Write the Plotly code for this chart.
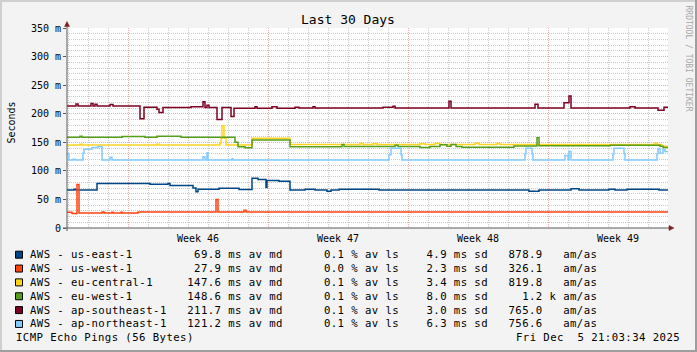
import plotly.graph_objects as go

# ---------------- data ----------------
series_names = ["AWS - us-east-1", "AWS - us-west-1", "AWS - eu-central-1",
                "AWS - eu-west-1", "AWS - ap-southeast-1", "AWS - ap-northeast-1"]
series_colors = ["#004586", "#ff420e", "#ffd320", "#579d1c", "#7e0021", "#83caff"]

# time in days since start of graph, values in ms (step changes)
us_east_t = [0, 0.35, 0.45, 1.5, 4.15, 5.05, 5.15, 6.3, 6.45, 6.55, 7.6, 8.6, 9.25, 9.55, 9.95, 10.0,
             10.6, 11.15, 11.9, 12.4, 13.0, 13.2, 13.6, 15.6, 23.1, 23.6, 25.2, 25.6, 27.1, 27.4, 28.0,
             29.6, 30.05]
us_east_v = [66.5, 68, 66.5, 78, 76.5, 78, 74.5, 70, 63.5, 68, 69.5, 67.5, 87, 85, 71, 83,
             82, 66.5, 68, 66.5, 64.5, 66.5, 68, 66.5, 64.5, 66.5, 68.5, 66.5, 68, 66.5, 67.8,
             66.5, 66.5]

us_west_t = [0, 0.25, 0.5, 0.6, 1.75, 1.85, 2.25, 2.3, 2.7, 2.75, 3.55, 7.45, 7.55, 8.85, 8.95, 30.05]
us_west_v = [27.5, 25.5, 76, 26.2, 28, 26.2, 27.5, 26.2, 27.5, 26.2, 27.9, 50, 27.9, 31, 27.9, 27.9]

eu_central_t = [0, 0.65, 0.75, 4.5, 4.6, 7.65, 7.7, 7.75, 7.85, 7.95, 9.25, 11.15, 14.65, 14.8,
                15.3, 15.5, 17.65, 17.9, 18.4, 18.65, 20.4, 20.6, 21.5, 21.65, 29.4, 29.5, 29.75, 30.05]
eu_central_v = [145.3, 146.5, 145.3, 146.5, 145.3, 148, 157, 179, 157, 145.3, 157, 146, 148, 146,
                147.5, 146, 147.5, 146, 148, 146, 148.5, 146, 148, 146, 148.5, 146, 143, 143]

eu_west_t = [0, 0.65, 0.75, 2.75, 3.9, 4.5, 5.7, 8.4, 8.55, 8.9, 9.25, 11.15, 13.75, 13.85,
             16.4, 16.55, 17.65, 18.15, 18.65, 19.0, 19.2, 19.45, 19.75, 22.35, 23.5, 23.6,
             27.15, 29.65, 29.8, 30.05]
eu_west_v = [159, 160.5, 159, 160, 159, 160.5, 159, 150, 142, 140.5, 154, 142.3, 146, 142.5,
             145, 142.5, 141, 142.5, 145.5, 143, 146, 142.5, 141.2, 143.6, 158, 144,
             145, 143, 141, 141]

ap_southeast_t = [0, 0.45, 0.55, 1.2, 1.3, 1.4, 1.5, 2.15, 2.3, 3.65, 3.85, 4.5, 4.6, 4.8, 6.2,
                  6.8, 6.9, 7.0, 7.1, 7.5, 7.75, 8.2, 8.35, 9.4, 9.5, 10.25, 10.5, 11.4, 11.6,
                  12.3, 12.4, 15.8, 16.3, 16.4, 19.1, 19.2, 23.4, 23.55, 24.85, 25.1, 25.2,
                  28.15, 28.4, 29.55, 29.85, 30.05]
ap_southeast_v = [213.5, 217, 213.5, 218, 213.5, 216.5, 213.5, 216, 213.5, 191, 211.5, 208, 202, 211, 212,
                  221, 211, 215, 211, 190, 211, 195, 209.5, 212, 209.5, 212, 209.5, 211.5, 210,
                  212, 210, 211.5, 213, 210, 222, 210, 216.5, 210, 219, 231, 210,
                  212, 210, 206, 211.5, 211.5]

ap_northeast_t = [0, 0.1, 0.3, 0.4, 0.8, 0.85, 1.25, 1.55, 1.75, 2.15, 2.25, 6.8, 6.9, 7.0, 7.05,
                  8.25, 8.3, 16.1, 16.2, 16.7, 16.75, 22.9, 22.95, 23.25, 23.3, 24.9, 25.05, 25.1,
                  25.2, 27.3, 27.35, 27.85, 27.9, 29.5, 29.55, 29.65, 29.8, 29.9, 30.05]
ap_northeast_v = [129.5, 119, 120.5, 119, 131, 138, 141, 142.5, 119, 124, 119, 124.5, 119, 131.5, 119,
                  121, 119, 128, 139.5, 128, 119, 130, 139.5, 130, 119, 127, 119, 134,
                  119, 130, 139.5, 130, 119, 130, 139, 131, 137, 134, 134]

series_t = [us_east_t, us_west_t, eu_central_t, eu_west_t, ap_southeast_t, ap_northeast_t]
series_v = [us_east_v, us_west_v, eu_central_v, eu_west_v, ap_southeast_v, ap_northeast_v]

avg_ms = [69.8, 27.9, 147.6, 148.6, 211.7, 121.2]
loss_pct = [0.1, 0.0, 0.1, 0.1, 0.1, 0.1]
sd_ms = [4.9, 2.3, 3.4, 8.0, 3.0, 6.3]
am_as = [878.9, 326.1, 819.8, 1200.0, 765.0, 756.6]

y_tick_vals = [0, 50, 100, 150, 200, 250, 300, 350]
y_tick_text = ["0", "50 m", "100 m", "150 m", "200 m", "250 m", "300 m", "350 m"]
week_labels = ["Week 46", "Week 47", "Week 48", "Week 49"]
week_starts = [3.065, 10.065, 17.065, 24.065]
day_lines = [0.065 + i for i in range(31)]
x_range = [0, 30.05]

title_text = "Last 30 Days"
footer_left = "ICMP Echo Pings (56 Bytes)"
footer_right = "Fri Dec  5 21:03:34 2025"
side_text = "RRDTOOL / TOBI OETIKER"

# ---------------- layout helpers ----------------
W, H = 697, 352
PL, PR, PT, PB = 67, 668, 28, 228


def px(x):
    return (x - PL) / (PR - PL)


def py(y):
    return (PB - y) / (PB - PT)


MONO = "DejaVu Sans Mono"


def mono(s):
    return s.replace(" ", "\u00a0")


def spaced(s, ls=0.42):
    return '<span style="letter-spacing:%spx">%s</span>' % (ls, mono(s))


fig = go.Figure()
for name, color, t, v in zip(series_names, series_colors, series_t, series_v):
    fig.add_trace(go.Scatter(x=t, y=v, mode="lines", name=name,
                             line=dict(color=color, width=1.5, shape="hv"),
                             showlegend=False, hoverinfo="skip"))

GRID = "#cccccc"
MGRID = "#f0afaf"
AXIS = "#5a5a5a"
ARROW = "#7f1f1f"

annotations = []
shapes = []

# title
annotations.append(dict(text=mono(title_text), x=px(348), y=py(19), xref="paper", yref="paper",
                        showarrow=False, xanchor="center", yanchor="middle",
                        font=dict(family=MONO, size=13, color="#000"), borderpad=0, borderwidth=0))
# y-axis title
annotations.append(dict(text="Seconds", x=px(10.5), y=py(123), xref="paper", yref="paper",
                        showarrow=False, textangle=-90, xanchor="center", yanchor="middle",
                        font=dict(family=MONO, size=10, color="#000"), borderpad=0, borderwidth=0))
# side credit
annotations.append(dict(text=mono(side_text), x=px(688), y=py(58.5), xref="paper", yref="paper",
                        showarrow=False, textangle=90, xanchor="center", yanchor="middle",
                        font=dict(family=MONO, size=8, color="#a8a8a8"), borderpad=0, borderwidth=0))
# week labels
for ws, lab in zip(week_starts, week_labels):
    annotations.append(dict(text=mono(lab), x=ws + 3.5, y=py(238), xref="x", yref="paper",
                            showarrow=False, xanchor="center", yanchor="middle",
                            font=dict(family=MONO, size=10, color="#000"), borderpad=0, borderwidth=0))

# legend rows
row_y0 = 254.7
row_dy = 13.85
for i, (name, color, a, l, s, m) in enumerate(zip(series_names, series_colors, avg_ms, loss_pct, sd_ms, am_as)):
    yc = row_y0 + i * row_dy
    if m >= 1000:
        mval, pref = m / 1000.0, "k"
    else:
        mval, pref = m, " "
    line = f"{name:<22}{a:6.1f} ms av md      {l:.1f} % av ls   {s:4.1f} ms sd  {mval:6.1f} {pref} am/as"
    annotations.append(dict(text=spaced(line), x=px(30), y=py(yc), xref="paper", yref="paper",
                            showarrow=False, xanchor="left", yanchor="middle",
                            font=dict(family=MONO, size=10.67, color="#000"), borderpad=0, borderwidth=0))
    shapes.append(dict(type="rect", xref="paper", yref="paper",
                       x0=px(15.5), x1=px(22.5), y0=py(yc - 3.5), y1=py(yc + 3.5),
                       fillcolor=color, line=dict(color="#000", width=1), layer="above"))

foot_y = row_y0 + 6 * row_dy
annotations.append(dict(text=spaced(footer_left), x=px(16), y=py(foot_y), xref="paper", yref="paper",
                        showarrow=False, xanchor="left", yanchor="middle",
                        font=dict(family=MONO, size=10.67, color="#000"), borderpad=0, borderwidth=0))
annotations.append(dict(text=spaced(footer_right), x=px(680), y=py(foot_y), xref="paper", yref="paper",
                        showarrow=False, xanchor="right", yanchor="middle",
                        font=dict(family=MONO, size=10.67, color="#000"), borderpad=0, borderwidth=0))

# frame (3D-ish border)
shapes += [
    dict(type="rect", xref="paper", yref="paper", x0=px(0), x1=px(W), y0=py(0), y1=py(2),
         fillcolor="#cfcfcf", line=dict(width=0), layer="below"),
    dict(type="rect", xref="paper", yref="paper", x0=px(0), x1=px(2), y0=py(0), y1=py(H),
         fillcolor="#cfcfcf", line=dict(width=0), layer="below"),
    dict(type="rect", xref="paper", yref="paper", x0=px(0), x1=px(W), y0=py(H - 2), y1=py(H),
         fillcolor="#9e9e9e", line=dict(width=0), layer="below"),
    dict(type="rect", xref="paper", yref="paper", x0=px(W - 2), x1=px(W), y0=py(0), y1=py(H),
         fillcolor="#9e9e9e", line=dict(width=0), layer="below"),
]

# axis lines and arrows
shapes += [
    dict(type="line", xref="paper", yref="paper", x0=px(67), x1=px(67), y0=py(231), y1=py(25),
         line=dict(color=AXIS, width=1), layer="above"),
    dict(type="line", xref="paper", yref="paper", x0=px(63), x1=px(670), y0=py(228), y1=py(228),
         line=dict(color=AXIS, width=1), layer="above"),
    dict(type="path", xref="paper", yref="paper",
         path=f"M {px(64.5)} {py(26.5)} L {px(69.5)} {py(26.5)} L {px(67)} {py(21.5)} Z",
         fillcolor=ARROW, line=dict(color=ARROW, width=0.5), layer="above"),
    dict(type="path", xref="paper", yref="paper",
         path=f"M {px(669)} {py(225.5)} L {px(669)} {py(230.5)} L {px(674)} {py(228)} Z",
         fillcolor=ARROW, line=dict(color=ARROW, width=0.5), layer="above"),
]

fig.update_layout(
    width=W, height=H,
    margin=dict(l=PL, r=W - PR, t=PT, b=H - PB, autoexpand=False),
    paper_bgcolor="#f3f3f3", plot_bgcolor="#ffffff",
    font=dict(family=MONO, size=10, color="#000"),
    showlegend=False,
    annotations=annotations, shapes=shapes,
    xaxis=dict(range=x_range, tickmode="array", tickvals=week_starts, showticklabels=False,
               showgrid=True, gridcolor=MGRID, griddash="1px,1px", gridwidth=1,
               zeroline=False, showline=False, ticks="",
               minor=dict(tickmode="array", tickvals=day_lines, showgrid=True, gridcolor=GRID,
                          griddash="1px,1px", gridwidth=1, ticks=""),
               fixedrange=True),
    yaxis=dict(range=[0, 350], tickmode="array", tickvals=y_tick_vals, ticktext=y_tick_text,
               showgrid=True, gridcolor=MGRID, griddash="1px,1px", gridwidth=1,
               zeroline=False, showline=False, ticks="outside", ticklen=3, tickcolor=AXIS,
               tickfont=dict(family=MONO, size=10, color="#000"), ticklabelstandoff=0,
               minor=dict(dtick=10, tick0=0, showgrid=True, gridcolor=GRID, griddash="1px,1px",
                          gridwidth=1, ticks=""),
               fixedrange=True),
)

fig.write_html("out.html")
